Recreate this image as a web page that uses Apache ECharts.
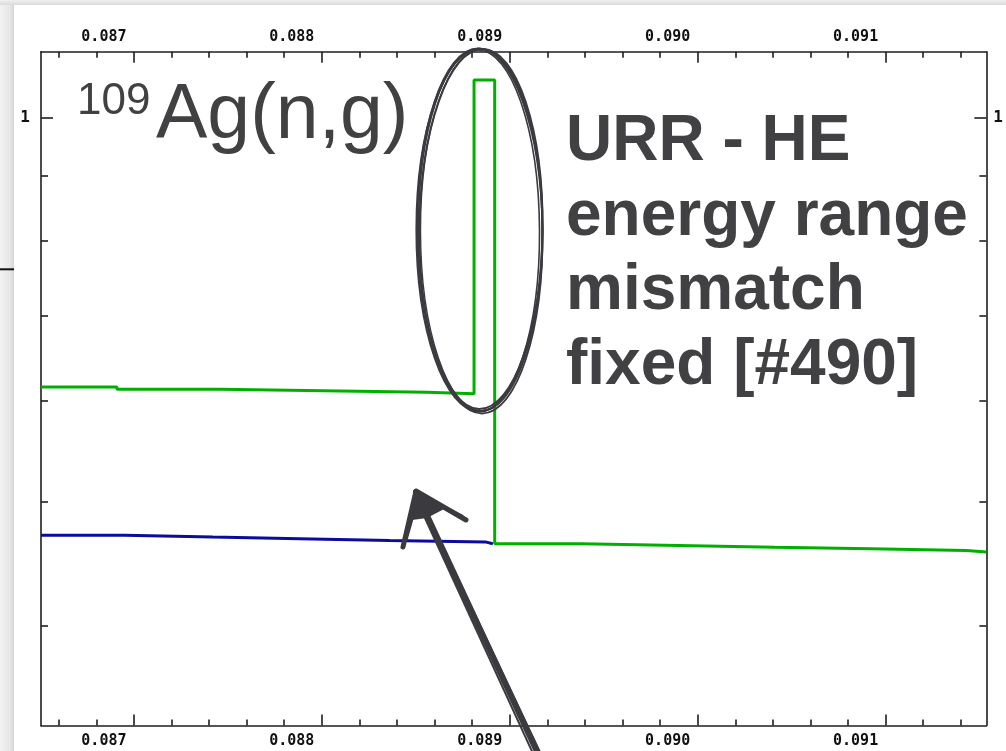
<!DOCTYPE html>
<html>
<head>
<meta charset="utf-8">
<script src="https://cdn.jsdelivr.net/npm/echarts@6/dist/echarts.min.js"></script>
<style>
  html, body { margin: 0; padding: 0; background: #ffffff; }
  #chart { width: 1006px; height: 751px; }
</style>
</head>
<body>
<div id="chart"></div>
<script>
// ---- data (energy in MeV, cross section in barn; log y axis) ----
const xTickValues = [0.087, 0.088, 0.089, 0.090, 0.091];
const xTickLabels = ['0.087', '0.088', '0.089', '0.090', '0.091'];
const xMinorTicks = [0.0866, 0.0868, 0.0872, 0.0874, 0.0876, 0.0878, 0.0882, 0.0884, 0.0886, 0.0888,
                     0.0892, 0.0894, 0.0896, 0.0898, 0.0902, 0.0904, 0.0906, 0.0908, 0.0912, 0.0914];
const yTickValues = [1];
const yTickLabels = ['1'];
const yMinorTicks = [0.4, 0.5, 0.6, 0.7, 0.8, 0.9];

const greenEnergy = [0.0865056, 0.08691, 0.08746, 0.08801, 0.08856, 0.08881, 0.08892,
                     0.08938, 0.08990, 0.09041, 0.09092, 0.09143, 0.0915363];
const greenXS     = [0.6151, 0.6127, 0.6110, 0.6093, 0.6076, 1.0696, 0.4637,
                     0.4623, 0.4609, 0.4596, 0.4582, 0.4568, 0.4568];
const blueEnergy  = [0.0865056, 0.08695, 0.08742, 0.08788, 0.08836, 0.08887, 0.08891];
const blueXS      = [0.4710, 0.4694, 0.4680, 0.4665, 0.4653, 0.4637, 0.4637];

const xMin = 0.0865056, xMax = 0.0915363;
const yMin = 0.3342, yMax = 1.1257;

// ---- chart ----
const chart = echarts.init(document.getElementById('chart'), null, { renderer: 'canvas' });
const frame = { color: '#1e1e1e', width: 1.6 };
const labelFont = { fontFamily: '"DejaVu Sans Mono", monospace', fontWeight: 'bold', fontSize: 15, color: '#111111' };

function xLabelFmt(v) {
  for (let i = 0; i < xTickValues.length; i++) {
    if (Math.abs(v - xTickValues[i]) < 1e-9) return xTickLabels[i];
  }
  return '';
}
function yLabelFmt(v) {
  for (let i = 0; i < yTickValues.length; i++) {
    if (Math.abs(v - yTickValues[i]) < 1e-9) return yTickLabels[i];
  }
  return '';
}

function xMajor(pos, margin) {
  return {
    type: 'value', position: pos, min: xMin, max: xMax,
    axisLine: { show: true, onZero: false, lineStyle: frame },
    axisTick: { show: true, inside: true, length: 11, customValues: xTickValues, lineStyle: frame },
    axisLabel: Object.assign({ show: true, customValues: xTickValues, formatter: xLabelFmt,
      margin: margin, padding: [0, 60, 0, 0] }, labelFont),
    splitLine: { show: false }
  };
}
function xMinor(pos) {
  return {
    type: 'value', position: pos, min: xMin, max: xMax,
    axisLine: { show: false, onZero: false },
    axisTick: { show: true, inside: true, length: 6, customValues: xMinorTicks, lineStyle: frame },
    axisLabel: { show: false },
    splitLine: { show: false }
  };
}
function yMajor(pos, margin) {
  return {
    type: 'log', logBase: 10, position: pos, min: yMin, max: yMax,
    axisLine: { show: true, onZero: false, lineStyle: frame },
    axisTick: { show: true, inside: true, length: 12, customValues: yTickValues, lineStyle: frame },
    axisLabel: Object.assign({ show: true, customValues: yTickValues, formatter: yLabelFmt,
      margin: margin }, labelFont, { fontSize: 16 }),
    splitLine: { show: false }
  };
}
function yMinor(pos) {
  return {
    type: 'log', logBase: 10, position: pos, min: yMin, max: yMax,
    axisLine: { show: false, onZero: false },
    axisTick: { show: true, inside: true, length: 7, customValues: yMinorTicks, lineStyle: frame },
    axisLabel: { show: false },
    splitLine: { show: false }
  };
}

const ink = '#3b3a3e';
const textCol = '#414042';
const boldFont = 'bold 64px "Liberation Sans", Arial, sans-serif';

const option = {
  animation: false,
  backgroundColor: '#ffffff',
  grid: { left: 41, right: 16.7, top: 51.7, bottom: 25.5, containLabel: false },
  xAxis: [xMajor('bottom', 8), xMajor('top', 7), xMinor('bottom'), xMinor('top')],
  yAxis: [yMajor('left', 11), yMajor('right', 7), yMinor('left'), yMinor('right')],
  series: [
    {
      type: 'line', name: 'blue', step: 'end', xAxisIndex: 0, yAxisIndex: 0,
      data: blueEnergy.map((e, i) => [e, blueXS[i]]),
      showSymbol: false, symbol: 'none', clip: true,
      lineStyle: { color: '#0b0b9e', width: 3 }, z: 3
    },
    {
      type: 'line', name: 'green', step: 'end', xAxisIndex: 0, yAxisIndex: 0,
      data: greenEnergy.map((e, i) => [e, greenXS[i]]),
      showSymbol: false, symbol: 'none', clip: true,
      lineStyle: { color: '#00b000', width: 3 }, z: 4
    }
  ],
  graphic: [
    // slide shadow
    { type: 'rect', z: 1, shape: { x: 0, y: 0, width: 14, height: 751 },
      style: { fill: new echarts.graphic.LinearGradient(0, 0, 1, 0, [
        { offset: 0, color: '#f3f3f3' }, { offset: 0.7, color: '#e6e6e6' }, { offset: 1, color: '#d6d6d6' }]) } },
    { type: 'rect', z: 1, shape: { x: 0, y: 0, width: 1006, height: 5 },
      style: { fill: new echarts.graphic.LinearGradient(0, 0, 0, 1, [
        { offset: 0, color: '#f0f0f0' }, { offset: 1, color: '#dadada' }]) } },
    { type: 'line', z: 2, shape: { x1: 0, y1: 269.3, x2: 14, y2: 269.3 },
      style: { stroke: '#111111', lineWidth: 2 } },
    // titles
    { type: 'text', z: 50, style: { text: '109', x: 77, y: 102.2, font: '44px "Liberation Sans", Arial, sans-serif',
      fill: textCol, align: 'left', verticalAlign: 'middle' } },
    { type: 'text', z: 50, style: { text: 'Ag(n,g)', x: 156, y: 116.3, font: '77px "Liberation Sans", Arial, sans-serif',
      fill: textCol, align: 'left', verticalAlign: 'middle' } },
    { type: 'text', z: 50, style: { text: 'URR - HE', x: 566, y: 142.5, font: boldFont,
      fill: textCol, align: 'left', verticalAlign: 'middle' } },
    { type: 'text', z: 50, style: { text: 'energy range', x: 566, y: 217, font: boldFont,
      fill: textCol, align: 'left', verticalAlign: 'middle' } },
    { type: 'text', z: 50, style: { text: 'mismatch', x: 566, y: 291.4, font: boldFont,
      fill: textCol, align: 'left', verticalAlign: 'middle' } },
    { type: 'text', z: 50, style: { text: 'fixed [#490]', x: 566, y: 365.9, font: boldFont,
      fill: textCol, align: 'left', verticalAlign: 'middle' } },
    // hand-drawn ellipse (several sketchy strokes)
    { type: 'ellipse', z: 60, shape: { cx: 479.5, cy: 230, rx: 63, ry: 181.5 },
      style: { fill: 'none', stroke: ink, lineWidth: 2.2 } },
    { type: 'ellipse', z: 60, shape: { cx: 481, cy: 229, rx: 61.5, ry: 180 }, rotation: -0.01, originX: 481, originY: 229,
      style: { fill: 'none', stroke: ink, lineWidth: 2 } },
    { type: 'ellipse', z: 60, shape: { cx: 480, cy: 231, rx: 62.5, ry: 182.5 }, rotation: 0.012, originX: 480, originY: 231,
      style: { fill: 'none', stroke: ink, lineWidth: 1.8 } },
    { type: 'ellipse', z: 60, shape: { cx: 479, cy: 230.5, rx: 60.5, ry: 180.5 }, rotation: 0.006, originX: 479, originY: 230,
      style: { fill: 'none', stroke: ink, lineWidth: 1.6 } },
    { type: 'ellipse', z: 60, shape: { cx: 481.5, cy: 230, rx: 61, ry: 181 },
      style: { fill: 'none', stroke: ink, lineWidth: 1.4 } },
    // hand-drawn arrow
    { type: 'polyline', z: 60, shape: { points: [[541, 760], [416, 492]] },
      style: { stroke: ink, lineWidth: 6, lineCap: 'round' } },
    { type: 'polyline', z: 60, shape: { points: [[536, 760], [419, 505]] },
      style: { stroke: ink, lineWidth: 2 } },
    { type: 'polyline', z: 60, shape: { points: [[544, 760], [421, 500]] },
      style: { stroke: ink, lineWidth: 1.5 } },
    { type: 'polyline', z: 60, shape: { points: [[403, 547], [416, 491], [466, 520]] },
      style: { stroke: ink, lineWidth: 5, lineJoin: 'round', lineCap: 'round' } },
    { type: 'polyline', z: 60, shape: { points: [[406, 540], [419, 494], [462, 516]] },
      style: { stroke: ink, lineWidth: 3, lineJoin: 'round', lineCap: 'round' } },
    { type: 'polygon', z: 60, shape: { points: [[416, 491], [446, 508], [427, 518], [412, 520]] },
      style: { fill: ink } }
  ]
};
chart.setOption(option);
</script>
</body>
</html>
